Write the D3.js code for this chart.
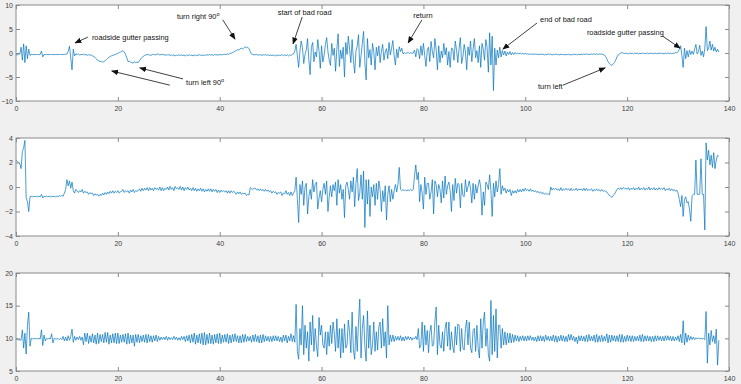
<!DOCTYPE html>
<html>
<head>
<meta charset="utf-8">
<script src="https://cdn.jsdelivr.net/npm/d3@7"></script>
<style>
  html, body { margin: 0; padding: 0; background: #f0f0f0; }
  svg { display: block; }
  .tick text { font-family: "Liberation Sans", Arial, sans-serif; font-size: 7px; fill: #404040; }
  .note { font-family: "Liberation Sans", Arial, sans-serif; font-size: 7.4px; fill: #111; }
</style>
</head>
<body>
<div id="chart"></div>
<script>
// sample step of the series below, seconds
const dt = 0.25
const xTicks = [0, 20, 40, 60, 80, 100, 120, 140]

// top panel (-10 .. 10), one row = 5 s
const series1 = [
  -0.3, -0.4, -0.3, -0.2, 1.2, -1.5, 1.9, -2.0, 1.5, -1.2, 0.8, -0.5, -0.3, -0.35, -0.3, -0.35, -0.3, -0.35, -0.3, -0.3,
  0.4, -0.8, -0.3, -0.35, -0.3, -0.3, -0.35, -0.3, -0.35, -0.3, -0.3, -0.35, -0.3, -0.35, -0.3, -0.3, -0.35, -0.3, -0.3, -0.25,
  -0.2, 0.3, 1.4, -1.0, -3.5, 0.8, -0.6, -0.2, -0.3, -0.2, -0.4, -0.3, -0.35, -0.25, -0.4, -0.3, -0.5, -0.35, -0.45, -0.4,
  -0.6, -0.7, -0.9, -1.2, -1.5, -1.6, -1.8, -1.7, -1.9, -1.8, -1.6, -1.4, -1.1, -0.9, -0.7, -0.6, -0.5, -0.4, -0.3, -0.2,
  -0.1, 0.1, 0.2, 0.3, 0.5, 0.2, -0.3, -1.0, -1.8, -1.7, -1.9, -2.0, -2.1, -1.8, -2.0, -1.9, -2.0, -1.6, -1.2, -0.9,
  -0.7, -0.5, -0.4, -0.35, -0.3, -0.45, -0.5, -0.3, -0.3, -0.4, -0.35, -0.2, -0.25, -0.4, -0.3, -0.35, -0.3, -0.5, -0.35, -0.4,
  -0.35, -0.5, -0.4, -0.55, -0.4, -0.6, -0.45, -0.5, -0.35, -0.55, -0.4, -0.5, -0.45, -0.6, -0.4, -0.55, -0.35, -0.5, -0.45, -0.6,
  -0.4, -0.55, -0.45, -0.5, -0.35, -0.5, -0.4, -0.55, -0.4, -0.5, -0.35, -0.45, -0.3, -0.45, -0.35, -0.5, -0.3, -0.4, -0.35, -0.45,
  -0.3, -0.4, -0.35, -0.3, -0.25, -0.35, -0.2, -0.3, -0.1, -0.05, 0.1, 0.2, 0.4, 0.5, 0.7, 0.6, 0.9, 1.0, 0.8, 1.1,
  1.3, 1.1, 1.2, 0.9, 0.3, -0.2, -0.3, -0.4, -0.35, -0.3, -0.45, -0.35, -0.4, -0.5, -0.35, -0.45, -0.3, -0.45, -0.4, -0.5,
  -0.45, -0.55, -0.4, -0.5, -0.6, -0.4, -0.55, -0.45, -0.5, -0.3, -0.6, -0.4, -0.55, -0.35, -0.6, -0.4, -0.5, -0.3, -0.2, 0.4,
  1.8, -0.6, -3.0, 0.4, 2.5, 1.1, -2.2, -0.3, 0.6, 3.0, -1.4, -4.5, 1.2, 2.2, -1.8, 0.2, -0.8, 2.8, 0.5, -3.2,
  1.5, -1.9, -0.4, 1.8, 3.2, 0.3, -1.5, -2.6, 2.0, -0.5, 1.0, -3.8, 0.8, 4.0, -2.8, 0.6, -1.2, 1.2, -5.0, 2.2,
  -0.3, 3.5, 0.8, -2.0, 2.8, -1.5, -4.2, 0.4, 1.4, 3.8, -3.0, -0.6, 2.0, 4.5, -2.0, -5.6, 3.0, -1.0, 0.7, -2.5,
  2.0, 0.3, -3.5, 1.2, -0.6, 1.5, -2.0, 0.4, 1.8, -1.5, 0.2, 0.9, -1.2, 2.2, -0.4, 1.0, 2.6, -0.6, -2.5, 0.8,
  -1.0, 1.3, 0.3, 1.0, -0.2, 0.1, -0.1, 0.0, 0.1, -0.1, 0.05, -0.1, 0.0, 0.6, -0.8, 0.9, 0.6, -1.2, 1.5, -0.5,
  2.0, -0.5, -2.8, 0.6, 1.2, -1.8, 2.4, 0.3, -1.0, 3.0, 0.8, -3.5, 1.5, -2.0, 0.4, -1.0, 2.0, -0.4, 1.1, -2.5,
  0.3, -3.0, 1.0, 0.9, -1.5, 2.5, 0.6, -2.0, 1.0, 3.2, -2.2, -0.8, 1.8, 0.2, -3.5, 1.3, -0.5, 2.5, -1.8, 0.8,
  3.0, -1.0, 0.5, -2.0, 1.5, -3.0, 2.0, 0.8, -1.5, 2.8, 1.2, -4.0, 4.2, -2.5, 3.5, -7.8, 1.0, -2.5, 0.6, -1.0,
  1.2, -0.8, 0.5, -0.4, 0.4, -0.6, 0.2, -0.3, 0.3, -0.4, 0.1, -0.3, 0.1, -0.2, 0.0, -0.2, 0.0, -0.2, -0.1, -0.2,
  -0.1, -0.25, -0.15, -0.3, -0.2, -0.3, -0.15, -0.35, -0.2, -0.3, -0.25, -0.35, -0.2, -0.3, -0.25, -0.4, -0.25, -0.35, -0.2, -0.3,
  -0.25, -0.4, -0.3, -0.35, -0.2, -0.35, -0.3, -0.4, -0.25, -0.35, -0.3, -0.4, -0.3, -0.35, -0.25, -0.4, -0.3, -0.4, -0.25, -0.35,
  -0.3, -0.4, -0.25, -0.35, -0.25, -0.35, -0.2, -0.3, -0.2, -0.3, -0.25, -0.3, -0.2, -0.3, -0.15, -0.3, -0.15, -0.3, -0.2, -0.25,
  -0.2, -0.3, -0.4, -0.7, -1.2, -1.8, -2.2, -2.4, -2.6, -2.3, -2.0, -1.5, -0.8, -0.4, -0.2, 0.0, 0.1, -0.05, -0.1, -0.05,
  -0.1, -0.2, 0.0, -0.15, -0.05, -0.2, 0.0, -0.1, -0.05, -0.2, -0.05, -0.15, 0.0, -0.1, -0.05, -0.2, 0.0, -0.15, -0.05, -0.1,
  -0.05, -0.2, 0.0, -0.15, -0.05, -0.15, 0.0, -0.1, -0.05, -0.2, 0.0, -0.15, 0.0, -0.1, -0.05, -0.15, 0.0, -0.1, 0.1, 0.0,
  0.3, 0.8, 1.5, -0.5, -3.0, 1.0, -1.2, 0.5, -0.8, 0.6, -0.3, 0.4, -0.3, 0.8, 1.8, -0.2, 0.3, 1.6, -0.5, 0.4,
  -0.8, 1.0, 5.5, 0.5, 1.0, 2.5, 0.6, 1.8, 0.4, 1.2, 0.2, 0.8, 0.2
]

// middle panel (-4 .. 4)
const series2 = [
  2.2, 2.1, 2.0, 1.9, 1.5, 2.9, 3.2, 3.8, -0.9, -1.2, -2.0, -0.8, -0.75, -0.8, -0.75, -0.8, -0.75, -0.8, -0.75, -0.8,
  -0.6, -0.9, -0.75, -0.8, -0.75, -0.8, -0.75, -0.8, -0.75, -0.8, -0.75, -0.8, -0.75, -0.8, -0.7, -0.75, -0.7, -0.75, -0.5, -0.2,
  0.6, 0.1, 0.5, -0.1, 0.4, -0.3, -0.5, -0.2, -0.3, -0.45, -0.3, -0.4, -0.2, -0.5, -0.35, -0.45, -0.4, -0.6, -0.45, -0.55,
  -0.5, -0.7, -0.55, -0.65, -0.6, -0.75, -0.6, -0.7, -0.5, -0.65, -0.45, -0.6, -0.4, -0.55, -0.35, -0.5, -0.3, -0.5, -0.35, -0.45,
  -0.3, -0.5, -0.4, -0.35, -0.2, -0.45, -0.3, -0.4, -0.3, -0.5, -0.25, -0.4, -0.2, -0.45, -0.3, -0.35, -0.3, -0.15, -0.35, -0.1,
  -0.3, -0.1, -0.25, -0.05, -0.3, -0.05, -0.25, -0.1, -0.3, -0.05, -0.2, -0.1, -0.25, 0.0, -0.3, -0.05, -0.3, -0.1, -0.2, 0.0,
  -0.25, 0.05, -0.2, -0.05, -0.3, 0.05, -0.15, -0.05, -0.2, 0.05, -0.25, 0.0, -0.3, -0.05, -0.2, 0.0, -0.25, -0.1, -0.3, -0.05,
  -0.3, -0.1, -0.35, -0.15, -0.3, -0.1, -0.35, -0.15, -0.4, -0.2, -0.35, -0.15, -0.35, -0.15, -0.4, -0.2, -0.35, -0.2, -0.45, -0.25,
  -0.45, -0.25, -0.4, -0.3, -0.4, -0.3, -0.5, -0.3, -0.5, -0.3, -0.45, -0.35, -0.45, -0.6, -0.4, -0.55, -0.4, -0.6, -0.5, -0.55,
  -0.5, -0.7, -0.6, -0.65, -0.05, -0.15, -0.2, -0.1, -0.1, -0.25, -0.15, -0.3, -0.15, -0.3, -0.2, -0.35, -0.2, -0.35, -0.25, -0.4,
  -0.3, -0.5, -0.35, -0.45, -0.4, -0.6, -0.45, -0.5, -0.4, -0.7, -0.5, -0.55, -0.3, -0.6, -0.45, -0.7, -0.4, -0.7, -0.5, -0.3,
  0.8, -1.0, -2.9, 0.2, -0.6, 0.5, -1.5, 0.0, 0.3, -2.2, -0.8, -0.2, -1.0, 0.6, -0.4, 0.2, 0.4, -1.8, -0.9, -0.3,
  -1.2, -0.2, 0.3, -0.6, 0.5, -2.0, -0.8, 0.1, -0.8, 0.2, -0.3, 0.4, -1.5, 0.6, -0.5, 0.2, -1.0, -0.2, -2.5, 0.1,
  0.4, -0.2, -1.0, 0.5, -0.4, 0.8, -1.6, 0.3, 1.5, -1.1, -0.5, 1.0, -1.0, 1.3, -3.3, 0.6, -1.4, 0.6, -2.4, 0.0,
  -0.8, 0.2, -1.5, 0.3, -1.0, 0.5, -0.2, -2.0, -0.3, -1.2, 0.1, -2.7, -0.6, 0.1, -1.2, -0.2, -1.0, -0.3, 0.2, -0.4,
  0.2, 1.6, -0.2, -0.3, -0.2, -0.3, -0.25, -0.3, -0.25, -0.3, -0.2, -0.3, -0.2, 0.9, 1.8, 0.6, 1.2, -1.2, 0.2, -0.5,
  -1.8, 0.8, -0.6, 0.3, 0.3, -1.0, -0.4, 0.6, -2.2, 0.5, 0.2, -0.8, 0.2, -0.2, -1.3, 0.5, -0.9, 0.9, -0.6, 0.1,
  0.4, -0.3, -2.0, 0.2, -1.1, 0.7, -0.5, 0.3, 0.2, -1.7, 0.3, -0.7, -0.8, 0.6, -0.4, 0.0, 0.5, -0.1, -1.3, 0.3,
  -1.0, 0.2, -0.5, 0.1, 0.6, 0.0, -2.3, -0.4, -1.5, 0.4, 0.2, -0.2, 1.0, -0.3, -2.4, 0.3, -0.8, 0.5, -0.4, 0.2,
  1.5, -0.6, 0.1, -0.3, -0.1, -0.5, -0.2, -0.4, -0.2, -0.7, -0.3, -0.5, -0.3, -0.5, -0.2, -0.4, -0.2, -0.4, -0.15, -0.35,
  -0.1, -0.3, -0.2, -0.35, -0.15, -0.35, -0.25, -0.4, -0.3, -0.45, -0.35, -0.5, -0.4, -0.55, -0.45, -0.6, -0.5, -0.6, -0.55, -0.65,
  0.0, -0.25, -0.1, -0.2, -0.1, -0.25, -0.15, -0.3, -0.05, -0.3, -0.15, -0.25, -0.1, -0.25, -0.15, -0.3, -0.1, -0.3, -0.2, -0.25,
  -0.1, -0.3, -0.15, -0.25, -0.15, -0.3, -0.1, -0.3, -0.1, -0.3, -0.2, -0.25, -0.15, -0.35, -0.2, -0.3, -0.15, -0.3, -0.2, -0.35,
  -0.2, -0.35, -0.3, -0.35, -0.4, -0.55, -0.7, -0.75, -0.85, -0.7, -0.6, -0.4, -0.2, -0.1, -0.2, -0.05, -0.2, -0.05, -0.15, -0.1,
  -0.2, -0.05, -0.25, -0.1, -0.2, -0.05, -0.25, -0.1, -0.2, 0.0, -0.25, -0.1, -0.2, -0.05, -0.25, -0.1, -0.2, 0.0, -0.25, -0.1,
  -0.2, -0.05, -0.25, -0.1, -0.25, -0.05, -0.2, -0.1, -0.2, -0.05, -0.3, -0.15, -0.25, -0.1, -0.3, -0.15, -0.3, -0.2, -0.35, -0.25,
  -0.5, -1.0, -1.6, -0.7, -2.4, -1.0, -0.8, -1.3, -1.2, -1.8, -2.8, -0.7, -0.6, -0.6, 2.2, -0.6, -0.6, -0.6, 2.3, -0.6,
  -0.6, -3.5, 3.6, 2.2, 3.0, 1.8, 2.6, 1.6, 2.8, 1.5, 2.2, 2.6, 2.5
]

// bottom panel (5 .. 20)
const series3 = [
  9.8, 9.9, 9.7, 9.8, 9.7, 11.3, 8.5, 10.8, 7.6, 12.0, 14.0, 8.8, 10.0, 9.9, 10.0, 9.9, 10.0, 9.9, 10.0, 9.9,
  11.3, 8.9, 10.5, 9.6, 10.0, 9.9, 10.0, 9.9, 10.7, 9.3, 10.0, 9.9, 9.9, 10.0, 9.8, 10.0, 9.8, 10.3, 9.6, 10.2,
  9.6, 10.4, 9.7, 10.3, 11.4, 9.4, 10.3, 9.7, 10.2, 9.8, 10.3, 9.7, 10.2, 9.0, 10.8, 9.5, 10.8, 9.2, 10.4, 9.4,
  10.7, 9.3, 10.5, 9.1, 10.8, 9.2, 10.6, 9.5, 10.6, 9.3, 10.9, 9.4, 10.9, 9.1, 10.5, 9.3, 10.7, 9.3, 10.8, 9.2,
  10.8, 9.2, 10.5, 9.4, 10.6, 9.4, 10.7, 9.1, 10.8, 9.2, 10.5, 9.3, 10.5, 8.8, 10.6, 9.4, 10.6, 9.3, 10.4, 9.5,
  10.5, 9.4, 10.6, 9.3, 10.6, 9.5, 10.4, 9.4, 10.4, 9.6, 10.5, 9.5, 10.3, 9.7, 10.2, 9.8, 10.2, 9.8, 10.3, 9.7,
  10.2, 9.8, 10.1, 9.8, 10.3, 9.8, 10.2, 9.7, 10.1, 9.7, 10.3, 9.8, 10.3, 9.5, 10.4, 9.6, 10.5, 9.3, 10.6, 9.4,
  10.8, 9.1, 10.5, 9.3, 10.7, 9.2, 10.8, 9.0, 10.9, 9.0, 10.6, 9.2, 10.8, 9.2, 10.5, 9.1, 10.6, 9.3, 10.7, 9.2,
  10.8, 9.2, 10.5, 9.4, 10.6, 9.4, 10.7, 9.2, 10.5, 9.3, 10.6, 9.5, 10.7, 9.5, 10.4, 9.3, 10.4, 9.3, 10.6, 9.4,
  10.6, 9.5, 10.3, 9.6, 10.3, 9.4, 10.5, 9.5, 10.6, 9.5, 10.4, 9.3, 10.5, 9.3, 10.6, 9.5, 10.4, 9.6, 10.3, 9.5,
  10.3, 9.5, 10.4, 9.6, 10.4, 9.6, 10.3, 9.5, 10.2, 9.4, 10.5, 9.6, 10.5, 9.3, 10.3, 9.6, 10.7, 9.5, 10.4, 9.4,
  15.2, 8.0, 6.8, 11.5, 9.0, 15.0, 7.5, 12.0, 8.5, 11.0, 6.5, 12.5, 9.0, 13.5, 8.0, 11.5, 8.8, 7.2, 13.2, 10.5,
  12.0, 9.0, 8.5, 11.0, 7.5, 11.0, 8.8, 12.0, 9.2, 12.5, 10.8, 8.0, 13.0, 8.5, 11.5, 7.0, 11.5, 7.8, 12.2, 8.5,
  9.0, 12.8, 11.0, 7.8, 14.0, 8.2, 6.8, 11.8, 8.0, 12.5, 16.0, 7.0, 11.5, 13.5, 8.8, 6.5, 14.2, 8.5, 12.0, 7.5,
  9.0, 12.5, 8.0, 11.0, 8.2, 11.8, 12.5, 8.5, 13.0, 8.8, 11.0, 7.0, 15.0, 9.0, 10.5, 9.5, 10.5, 9.5, 10.3, 9.7,
  10.3, 9.7, 10.4, 9.6, 10.2, 9.6, 10.3, 9.8, 10.3, 9.8, 10.2, 9.7, 10.1, 9.9, 10.3, 9.8, 11.5, 8.5, 9.0, 12.5,
  8.0, 12.0, 9.0, 11.2, 7.8, 11.0, 12.0, 8.8, 9.0, 12.5, 14.8, 7.5, 12.0, 9.0, 8.5, 11.0, 8.0, 11.5, 12.5, 8.8,
  12.5, 8.2, 11.0, 8.8, 7.8, 11.8, 9.0, 12.2, 12.0, 8.0, 11.5, 8.5, 8.2, 11.5, 12.8, 9.0, 12.5, 8.5, 7.8, 11.2,
  11.5, 8.0, 12.0, 8.5, 7.0, 13.0, 8.5, 12.5, 14.0, 8.8, 11.5, 7.5, 6.5, 15.8, 7.5, 13.5, 8.0, 14.5, 7.0, 12.0,
  12.0, 8.5, 11.5, 9.0, 11.0, 9.0, 10.8, 9.3, 10.8, 9.3, 10.6, 9.4, 10.5, 9.6, 10.4, 9.5, 10.3, 9.7, 10.4, 9.6,
  10.3, 9.6, 10.4, 9.7, 10.4, 9.7, 10.2, 9.6, 10.2, 9.5, 10.4, 9.6, 10.4, 9.6, 10.3, 9.5, 10.5, 9.7, 10.3, 9.6,
  10.3, 9.6, 10.5, 9.5, 10.4, 9.4, 10.3, 9.6, 10.5, 9.6, 10.4, 9.5, 10.3, 9.5, 10.6, 9.7, 10.6, 9.7, 10.3, 9.5,
  10.2, 9.2, 10.4, 9.6, 10.4, 9.6, 10.3, 9.5, 10.5, 9.5, 10.6, 9.6, 10.3, 9.6, 10.5, 9.4, 10.6, 9.4, 10.4, 9.5,
  10.5, 9.5, 10.3, 9.6, 10.7, 9.3, 10.5, 9.4, 10.5, 9.6, 10.4, 9.5, 10.4, 9.5, 10.6, 9.4, 10.6, 9.4, 10.3, 9.5,
  10.5, 9.6, 10.4, 9.5, 10.4, 9.5, 10.3, 9.6, 10.3, 9.6, 10.5, 9.5, 10.6, 9.5, 10.4, 9.6, 10.4, 9.6, 10.3, 9.5,
  10.3, 9.5, 10.4, 9.6, 10.4, 9.7, 10.3, 9.6, 10.3, 9.6, 10.4, 9.7, 10.4, 9.7, 10.3, 9.6, 10.3, 9.6, 10.2, 9.7,
  10.4, 9.5, 10.6, 9.3, 12.7, 9.0, 10.8, 9.4, 10.5, 9.7, 10.3, 9.8, 10.2, 9.8, 10.1, 9.9, 10.1, 9.9, 10.0, 9.9,
  10.0, 9.8, 14.1, 6.2, 10.8, 9.0, 11.2, 9.5, 10.4, 9.2, 11.4, 5.9, 9.7
]

// annotations on the top panel: text anchor and arrows [fromT, fromV, toT, toV], in data units
const notes = [
  { label: 'roadside gutter passing', tx: 14.9, ty: 3.3, lines: [[14.1, 3.3, 11.6, 2.1]] },
  { label: 'turn right 90', sup: 'o', tx: 31.6, ty: 7.7, lines: [[40.6, 6.9, 43.0, 2.9]] },
  { label: 'start of bad road', tx: 51.4, ty: 8.5, lines: [[56.2, 7.5, 54.4, 1.9]] },
  { label: 'turn left 90', sup: 'o', tx: 33.4, ty: -6.1, lines: [[30.2, -6.7, 18.8, -3.75], [32.8, -5.4, 24.3, -3.1]] },
  { label: 'return', tx: 78.0, ty: 7.9, lines: [[79.7, 6.9, 77.0, 2.1]] },
  { label: 'end of bad road', tx: 102.9, ty: 7.0, lines: [[102.3, 6.25, 95.6, 0.8]] },
  { label: 'roadside gutter passing', tx: 112.1, ty: 4.3, lines: [[127.0, 3.5, 130.4, 1.0]] },
  { label: 'turn left', tx: 102.5, ty: -6.9, lines: [[107.4, -6.7, 115.7, -3.1]] }
]

const width = 741
const height = 384
const left = 16
const right = 729

const panels = [
  { values: series1, domain: [-10, 10], ticks: [-10, -5, 0, 5, 10], top: 5, bottom: 101 },
  { values: series2, domain: [-4, 4], ticks: [-4, -2, 0, 2, 4], top: 138, bottom: 236 },
  { values: series3, domain: [5, 20], ticks: [5, 10, 15, 20], top: 273, bottom: 371 }
]

const svg = d3.select('#chart')
  .append('svg')
  .attr('width', width)
  .attr('height', height)

svg.append('rect')
  .attr('width', width)
  .attr('height', height)
  .attr('fill', '#f0f0f0')

const defs = svg.append('defs')
defs.append('marker')
  .attr('id', 'head')
  .attr('viewBox', '0 0 10 10')
  .attr('refX', 9)
  .attr('refY', 5)
  .attr('markerWidth', 7)
  .attr('markerHeight', 7)
  .attr('markerUnits', 'userSpaceOnUse')
  .attr('orient', 'auto')
  .append('path')
  .attr('d', 'M0,1 L10,5 L0,9 Z')
  .attr('fill', '#111')

const x = d3.scaleLinear().domain([0, 140]).range([left, right])

panels.forEach((p, k) => {
  const y = d3.scaleLinear().domain(p.domain).range([p.bottom, p.top])
  p.y = y
  const g = svg.append('g').attr('class', 'panel')

  g.append('rect')
    .attr('x', left)
    .attr('y', p.top)
    .attr('width', right - left)
    .attr('height', p.bottom - p.top)
    .attr('fill', '#fff')

  const clipId = 'clip' + k
  defs.append('clipPath').attr('id', clipId)
    .append('rect')
    .attr('x', left)
    .attr('y', p.top)
    .attr('width', right - left)
    .attr('height', p.bottom - p.top)

  const line = d3.line()
    .x((d, i) => x(i * dt))
    .y(d => y(d))

  g.append('path')
    .datum(p.values)
    .attr('clip-path', `url(#${clipId})`)
    .attr('fill', 'none')
    .attr('stroke', '#0072bd')
    .attr('stroke-width', 0.7)
    .attr('stroke-linejoin', 'round')
    .attr('d', line)

  // bottom / left axes with labels, ticks pointing inward
  const xAxis = d3.axisBottom(x).tickValues(xTicks).tickSize(-4).tickPadding(5.5).tickSizeOuter(0)
  const yAxis = d3.axisLeft(y).tickValues(p.ticks).tickSize(-4).tickPadding(3).tickSizeOuter(0)

  g.append('g')
    .attr('transform', `translate(0,${p.bottom})`)
    .call(xAxis)
    .call(s => s.select('.domain').remove())
  g.append('g')
    .attr('transform', `translate(${left},0)`)
    .call(yAxis)
    .call(s => s.select('.domain').remove())

  // top / right: ticks only
  g.append('g')
    .attr('transform', `translate(0,${p.top})`)
    .call(d3.axisTop(x).tickValues(xTicks).tickSize(-4).tickFormat(''))
    .call(s => s.select('.domain').remove())
  g.append('g')
    .attr('transform', `translate(${right},0)`)
    .call(d3.axisRight(y).tickValues(p.ticks).tickSize(-4).tickFormat(''))
    .call(s => s.select('.domain').remove())

  g.selectAll('.tick line').attr('stroke', '#8a8a8a').attr('stroke-width', 1)

  g.append('rect')
    .attr('x', left)
    .attr('y', p.top)
    .attr('width', right - left)
    .attr('height', p.bottom - p.top)
    .attr('fill', 'none')
    .attr('stroke', '#8a8a8a')
    .attr('stroke-width', 1)
})

// annotations
const y1 = panels[0].y
const ann = svg.append('g').attr('class', 'notes')
notes.forEach(n => {
  const t = ann.append('text')
    .attr('class', 'note')
    .attr('x', x(n.tx))
    .attr('y', y1(n.ty))
    .attr('dy', '0.35em')
    .text(n.label)
  if (n.sup) {
    t.append('tspan')
      .attr('dy', '-3')
      .attr('font-size', '5.5px')
      .text(n.sup)
  }
  n.lines.forEach(l => {
    ann.append('line')
      .attr('x1', x(l[0]))
      .attr('y1', y1(l[1]))
      .attr('x2', x(l[2]))
      .attr('y2', y1(l[3]))
      .attr('stroke', '#111')
      .attr('stroke-width', 0.8)
      .attr('marker-end', 'url(#head)')
  })
})
</script>
</body>
</html>
